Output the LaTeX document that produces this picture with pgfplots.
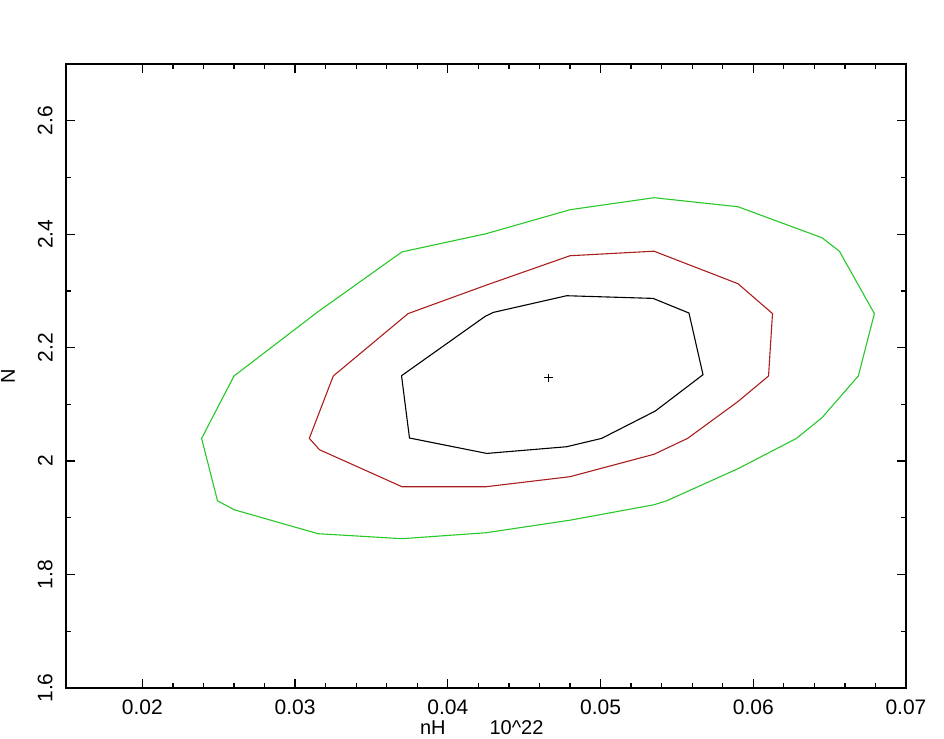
\documentclass[border=0pt]{standalone}
\usepackage{fontspec}
\setmainfont{Liberation Sans}
\usepackage{pgfplots}
\pgfplotsset{compat=1.18}
\definecolor{cgreen}{RGB}{40,200,40}
\definecolor{cred}{RGB}{170,30,30}
\begin{document}
\begin{tikzpicture}
\useasboundingbox (-33pt,-25.5pt) rectangle (439pt,344pt);
\begin{axis}[
  at={(0pt,0pt)}, anchor=south west,
  width=420pt, height=312pt, scale only axis,
  xmin=0.015, xmax=0.07, ymin=1.6, ymax=2.7,
  scaled x ticks=false, scaled y ticks=false,
  xtick={0.02,0.03,0.04,0.05,0.06,0.07},
  xticklabels={0.02,0.03,0.04,0.05,0.06,0.07},
  ytick={1.6,1.8,2.0,2.2,2.4,2.6},
  yticklabels={1.6,1.8,2,2.2,2.4,2.6},
  minor x tick num=4, minor y tick num=1,
  major tick length=4.5pt, minor tick length=2.5pt,
  tick align=inside,
  axis line style={line width=0.6pt},
  every tick/.style={black, line width=0.6pt},
  tick label style={font=\fontsize{10.5}{12}\selectfont},
  yticklabel style={rotate=90, anchor=south, inner sep=1pt, yshift=5.5pt},
  xticklabel style={anchor=north, inner sep=1pt, yshift=-4.5pt},
  xlabel={nH\hspace{2.2em}10\^{}22},
  ylabel={N},
  label style={font=\fontsize{10.5}{12}\selectfont, inner sep=0pt},
  every axis x label/.style={at={(axis description cs:0.495,-0.064)}, anchor=center},
  every axis y label/.style={at={(axis description cs:-0.069,0.5)}, rotate=90, anchor=center},
]
% green contour
\addplot[cgreen, line width=0.55pt] coordinates {
(0.02388,2.04) (0.02492,1.93) (0.026,1.9143) (0.0315,1.872) (0.037,1.8632)
(0.0425,1.8737) (0.048,1.8958) (0.0535,1.923) (0.05433,1.93) (0.059,1.9866)
(0.06283,2.04) (0.0645,2.0765) (0.06688,2.15) (0.06793,2.26) (0.06564,2.37)
(0.0645,2.3937) (0.059,2.4484) (0.0535,2.4643) (0.048,2.4431) (0.0425,2.4008)
(0.037,2.3688) (0.0315,2.2633) (0.026,2.15) (0.02388,2.04)
};
% red contour
\addplot[cred, line width=0.55pt] coordinates {
(0.03093,2.04) (0.0316,2.02) (0.037,1.9548) (0.0425,1.9548) (0.048,1.9725)
(0.0535,2.012) (0.0557,2.04) (0.059,2.105) (0.061,2.15) (0.06126,2.26)
(0.059,2.3127) (0.0535,2.37) (0.048,2.362) (0.0425,2.31) (0.0374,2.26)
(0.0325,2.15) (0.03093,2.04)
};
% black contour
\addplot[black, line width=0.55pt] coordinates {
(0.03697,2.1505) (0.03749,2.0407) (0.04255,2.0135) (0.04778,2.0253) (0.05007,2.04)
(0.05359,2.0883) (0.05671,2.1523) (0.05579,2.261) (0.05344,2.2868) (0.04778,2.2915)
(0.04298,2.2621) (0.04244,2.255) (0.03697,2.1505)
};
% best fit
\addplot[black, only marks, mark=+, mark size=2.2pt, mark options={line width=0.5pt}] coordinates {(0.04658,2.1465)};
\end{axis}
\end{tikzpicture}
\end{document}
